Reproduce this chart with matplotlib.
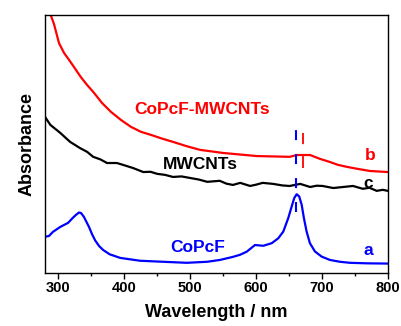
import matplotlib
matplotlib.use("Agg")
import matplotlib.pyplot as plt
from matplotlib.ticker import MultipleLocator

plt.rcParams['font.family'] = ['Liberation Sans', 'DejaVu Sans']
plt.rcParams['font.weight'] = 'bold'

# curve a: CoPcF
wl_a = [280, 286, 292, 303, 315, 322, 327, 331.5, 334.6, 339, 346.7, 351.3, 356, 362,
        368, 378, 394, 424, 459, 495, 526, 545, 565, 575.6, 585.8, 598.4, 610.9,
        623.7, 633.7, 641.3, 648.8, 654.0, 657.9, 661.6, 665.5, 669.2, 672.6, 676.7,
        681.7, 689.3, 699.5, 712.1, 727.3, 742.4, 768, 800]
abs_a = [0.140, 0.143, 0.159, 0.178, 0.194, 0.213, 0.225, 0.234, 0.232, 0.217, 0.178,
         0.150, 0.126, 0.104, 0.089, 0.072, 0.058, 0.047, 0.043, 0.039, 0.043, 0.050,
         0.062, 0.070, 0.082, 0.108, 0.105, 0.115, 0.134, 0.160, 0.212, 0.257, 0.290,
         0.305, 0.296, 0.264, 0.212, 0.160, 0.115, 0.083, 0.063, 0.050, 0.043, 0.039,
         0.037, 0.036]

# curve b: CoPcF-MWCNTs
wl_b = [280, 288.6, 293.6, 297.7, 301.2, 308.8, 316.4, 324.0, 334.1, 343.7, 354.3,
        366.4, 380.1, 395.2, 410.4, 425.5, 440.7, 457, 474, 495, 515, 550, 601, 651,
        662, 682, 697, 712, 724, 738, 754.5, 773, 800]
abs_b = [1.058, 1.000, 0.965, 0.925, 0.891, 0.853, 0.826, 0.798, 0.760, 0.729, 0.698,
         0.659, 0.624, 0.593, 0.566, 0.547, 0.535, 0.521, 0.508, 0.491, 0.477, 0.465,
         0.453, 0.450, 0.457, 0.457, 0.442, 0.430, 0.419, 0.411, 0.403, 0.395, 0.391]

# curve c: MWCNTs
wl_c = [280, 288, 303, 318, 333, 344, 353, 364, 374, 389, 398, 413, 429, 440, 450,
        462, 474, 487, 500, 513, 526, 545, 555, 565, 576, 591, 600, 610, 626, 640,
        651, 667, 682, 692, 701, 717, 732, 747, 762, 772, 783, 792, 800]
abs_c = [0.605, 0.574, 0.543, 0.508, 0.484, 0.469, 0.450, 0.440, 0.426, 0.426, 0.419,
         0.407, 0.391, 0.392, 0.384, 0.380, 0.372, 0.374, 0.368, 0.362, 0.353, 0.357,
         0.346, 0.341, 0.349, 0.337, 0.342, 0.349, 0.345, 0.339, 0.337, 0.345, 0.333,
         0.338, 0.337, 0.329, 0.333, 0.337, 0.326, 0.330, 0.318, 0.322, 0.318]

# dashed markers at the Q band
q_blue_x = 660.5
q_blue_y = [0.236, 0.562]
q_red_x = 671
q_red_y = [0.407, 0.543]

fig = plt.figure(figsize=(4.02, 3.26), dpi=100)
ax = fig.add_axes([0.112, 0.163, 0.853, 0.791])

ax.plot(wl_a, abs_a, color='#0000ff', lw=1.6)
ax.plot(wl_b, abs_b, color='#ff0000', lw=1.6)
ax.plot(wl_c, abs_c, color='black', lw=1.6)

ax.plot([q_blue_x, q_blue_x], q_blue_y, color='#0000ff', lw=1.5, dashes=(4.8, 6.7))
ax.plot([q_red_x, q_red_x], q_red_y, color='#ff0000', lw=1.3, dashes=(6.6, 6.6))

ax.text(518, 0.632, 'CoPcF-MWCNTs', color='#ff0000', fontsize=12.5,
        fontweight='bold', ha='center', va='center')
ax.text(515, 0.419, 'MWCNTs', color='black', fontsize=12.5,
        fontweight='bold', ha='center', va='center')
ax.text(512, 0.097, 'CoPcF', color='#0000ff', fontsize=12.5,
        fontweight='bold', ha='center', va='center')
ax.text(770, 0.085, 'a', color='#0000ff', fontsize=12.5, fontweight='bold',
        ha='center', va='center')
ax.text(773, 0.457, 'b', color='#ff0000', fontsize=12.5, fontweight='bold',
        ha='center', va='center')
ax.text(770, 0.345, 'c', color='black', fontsize=12.5, fontweight='bold',
        ha='center', va='center')

ax.set_xlim(280, 800)
ax.set_ylim(0, 1.0)
ax.xaxis.set_major_locator(MultipleLocator(100))
ax.xaxis.set_minor_locator(MultipleLocator(50))
ax.set_yticks([])
ax.tick_params(axis='x', which='major', direction='out', length=4, width=1,
               labelsize=10.5, pad=2)
ax.tick_params(axis='x', which='minor', direction='out', length=2.5, width=1)
for lab in ax.get_xticklabels():
    lab.set_fontweight('bold')
for sp in ax.spines.values():
    sp.set_linewidth(1.0)

ax.set_xlabel('Wavelength / nm', fontsize=13, fontweight='bold', labelpad=6)
ax.set_ylabel('Absorbance', fontsize=13, fontweight='bold', labelpad=7)

fig.savefig('out.png', dpi=100)
